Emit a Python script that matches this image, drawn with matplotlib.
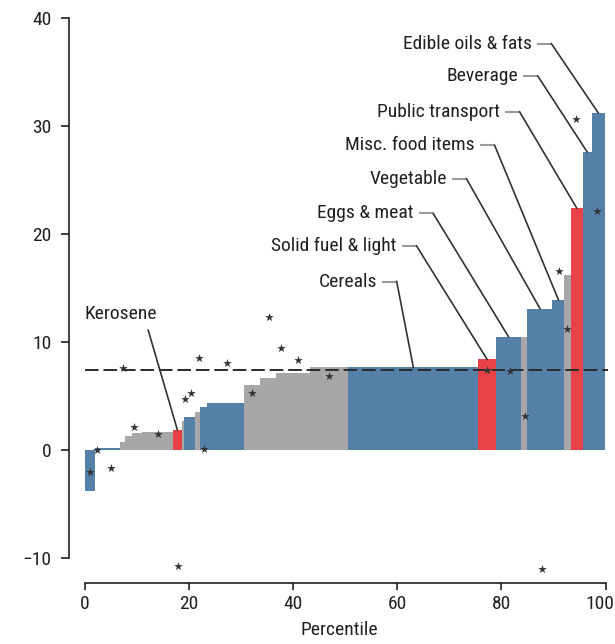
import matplotlib
matplotlib.use("Agg")
import matplotlib.pyplot as plt
import matplotlib.transforms as mtransforms
import numpy as np

plt.rcParams['font.family'] = ['Roboto Condensed', 'Lato', 'DejaVu Sans']

# percentile boundaries of the bars and the bar values
edges = [0, 2, 6.8, 7.8, 9.0, 11.0, 17.0, 18.6, 19.1, 21.2, 22.1, 23.4, 30.5,
         33.6, 36.7, 43.2, 50.6, 75.6, 78.9, 83.8, 85.0, 89.8, 92.1, 93.3,
         95.6, 97.3, 99.9]
values = [-3.8, 0.15, 0.77, 1.26, 1.57, 1.72, 1.87, 2.7, 3.05, 3.5, 3.95, 4.35,
          6.0, 6.65, 7.1, 7.7, 7.65, 8.4, 10.5, 10.5, 13.1, 13.9, 16.2, 22.4,
          27.6, 31.2]
groups = ['b', 'b', 'g', 'g', 'g', 'g', 'r', 'g', 'b', 'g', 'b', 'b', 'g', 'g',
          'g', 'g', 'b', 'r', 'b', 'g', 'b', 'b', 'g', 'r', 'b', 'b']

# second measure (stars)
star_x = [1.0, 2.3, 5.0, 7.4, 9.5, 14.1, 18.0, 19.2, 20.4, 22.0, 22.9, 27.3,
          32.2, 35.3, 37.7, 41.0, 46.9, 77.3, 81.6, 84.5, 87.8, 91.1, 92.6,
          94.4, 98.3]
star_y = [-2.0, 0.0, -1.7, 7.6, 2.1, 1.5, -10.7, 4.75, 5.3, 8.5, 0.1, 8.1,
          5.3, 12.3, 9.45, 8.3, 6.9, 7.45, 7.35, 3.2, -11.0, 16.6, 11.2,
          30.6, 22.1]

average = 7.4

# labelled categories -> bar index
label_names = ['Edible oils & fats', 'Beverage', 'Public transport',
               'Misc. food items', 'Vegetable', 'Eggs & meat',
               'Solid fuel & light', 'Cereals']
label_bars = [25, 24, 23, 21, 20, 18, 17, 16]
# text anchor (right end) in data units
label_pos = [(85.8, 37.6), (83.2, 34.6), (79.7, 31.3), (74.9, 28.2),
             (69.5, 25.1), (63.1, 21.9), (59.9, 18.9), (56.1, 15.6)]

colors = {'b': '#5580a8', 'g': '#a8a6a8', 'r': '#e84248'}
txt = '#231f20'
fs = 14

fig = plt.figure(figsize=(6.15, 6.44), dpi=100)
ax = fig.add_axes([0.1122, 0.0947, 0.8793, 0.886])

edges = np.array(edges)
widths = np.diff(edges)
centers = edges[:-1] + widths / 2
ax.bar(edges[:-1], values, width=widths, align='edge',
       color=[colors[g] for g in groups], linewidth=0, zorder=2)

ax.hlines(average, 0, 100.5, colors='#2b2b2b', linewidth=1.4,
          linestyles=(0, (7, 2.5)), zorder=3)

ax.scatter(star_x, star_y, marker='*', s=42, color='#333333', zorder=4,
           linewidths=0)

for name, bi, (tx, ty) in zip(label_names, label_bars, label_pos):
    ax.text(tx, ty, name, ha='right', va='center', fontsize=fs, color=txt)
    ax.plot([tx + 1.0, tx + 3.8], [ty, ty], color='#9a9a9a', lw=1.5,
            solid_capstyle='butt', zorder=5)
    ax.plot([tx + 3.8, centers[bi]], [ty, values[bi]], color='#333333',
            lw=1.2, zorder=5)

# Kerosene label sits on the left
ax.text(0, 12.6, 'Kerosene', ha='left', va='center', fontsize=fs, color=txt)
ax.plot([12.2, centers[6]], [11.1, values[6]], color='#333333', lw=1.2,
        zorder=5)

ax.set_xlim(-3, 100.8)
ax.set_ylim(-12.3, 40.5)
for s in ['top', 'right']:
    ax.spines[s].set_visible(False)
ax.spines['left'].set_bounds(-10, 40)
ax.spines['bottom'].set_bounds(0, 100)
for s in ['left', 'bottom']:
    ax.spines[s].set_linewidth(1.2)
    ax.spines[s].set_color('#231f20')

ax.set_yticks([-10, 0, 10, 20, 30, 40])
ax.set_xticks([0, 20, 40, 60, 80, 100])
ax.tick_params(axis='y', length=6, width=1.2, pad=6.5, labelsize=fs,
               colors=txt)
ax.tick_params(axis='x', length=5, width=1.2, pad=3.5, labelsize=fs,
               colors=txt)
ax.set_xlabel('Percentile', fontsize=fs, color=txt, labelpad=6)

# keep the "100" label inside the canvas
last = ax.get_xticklabels()[-1]
last.set_transform(last.get_transform() +
                   mtransforms.ScaledTranslation(-6 / 100, 0, fig.dpi_scale_trans))

fig.savefig('out.png', dpi=100)
